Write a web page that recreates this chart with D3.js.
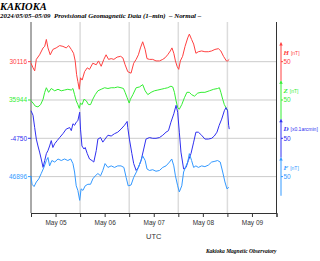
<!DOCTYPE html>
<html>
<head>
<meta charset="utf-8">
<script src="https://cdn.jsdelivr.net/npm/d3@7"></script>
<style>
  body { margin: 0; background: #fff; }
  svg { display: block; }
</style>
</head>
<body>
<div id="chart"></div>
<script>
// hours after 2024-05-05 00:00 UTC, values in nT (D in 0.1 arcmin)
const hHours = [0,1,1.8,2.6,4.2,5.9,6.7,7.5,8.3,9.4,10.7,12.3,14,15.6,17.2,18.4,19.7,20.8,21.6,22.3,22.9,23.6,24.2,25,26.2,27.5,28.6,30.2,31.9,33,34.3,35.6,36.7,37.9,39.2,40.5,42.1,43.8,44.9,46,47.3,48.9,50.2,51.4,52.5,53.5,54.6,55.8,56.7,57.9,59.5,61.1,62.8,64.4,65.5,66.8,68.1,68.9,69.8,70.6,71.4,72.2,73,74.1,75.3,76.6,77.4,78.5,79.5,80.6,81.8,83.4,85,86.7,88.3,89.9,91.6,92.8,94.1,95.5,96.1,96.9];
const hValues = [30114,30108,30104,30119,30125,30134,30136,30145,30134,30125,30132,30134,30137,30136,30134,30137,30132,30127,30117,30099,30090,30080,30095,30092,30103,30108,30106,30114,30112,30117,30110,30119,30125,30119,30120,30119,30122,30123,30121,30112,30103,30101,30114,30119,30125,30134,30142,30132,30120,30119,30119,30117,30117,30119,30121,30125,30130,30134,30127,30117,30110,30106,30117,30123,30136,30147,30152,30145,30139,30127,30129,30130,30129,30129,30130,30132,30133,30130,30123,30117,30117,30119];

const zHours = [0,1,2.1,3.4,4.7,5.9,6.7,7.5,8.6,9.9,11.6,13.2,14.8,16.4,18,19.7,20.5,21.3,22.1,22.9,23.6,24.2,25,25.9,27,28.1,29.1,30.2,31.4,32.7,34.3,36,37.6,39.2,40.8,42.4,44,45.2,46,47,48,48.6,49.8,51.4,53,54.6,55.8,57.1,58.7,60.3,62,63.6,65.2,66.8,68.4,69.3,70.1,70.9,71.7,72.5,73.7,75,76.2,77.4,78.5,79.9,81.5,83.1,85,87.2,89.3,91.2,92.1,92.8,93.7,94.5,95.5,96.1];
const zValues = [35943,35940,35936,35935,35938,35945,35954,35960,35954,35959,35956,35958,35956,35957,35958,35957,35959,35951,35943,35938,35933,35940,35938,35945,35943,35938,35938,35945,35951,35956,35958,35960,35959,35960,35960,35961,35960,35959,35954,35947,35940,35945,35951,35960,35961,35964,35956,35951,35954,35956,35957,35958,35959,35960,35962,35961,35954,35943,35934,35932,35938,35947,35954,35954,35951,35949,35953,35954,35954,35956,35958,35959,35960,35954,35945,35938,35933,35930];

const dHours = [0,1,1.8,2.6,3.4,4.2,5,5.9,6.7,7.5,8.3,9.1,9.9,10.7,11.6,12.8,14,15.6,17.2,18.9,19.7,20.5,21.3,22.1,22.9,23.8,24.2,24.9,25.9,26.5,27.5,28.6,29.8,30.7,31.9,32.7,34,35.1,36.2,37.6,39.2,40.8,42.4,44,45.7,47,47.3,48.1,49.3,50.2,51.4,52.5,53.8,55.1,56.2,57.9,59.5,61.1,62.8,64.4,66,67.2,68.4,69.8,70.9,71.7,72.5,73.3,74.6,75.8,76.9,78.2,79.5,80.6,81.8,83.4,85,86.7,88.3,89.6,90.9,92,93.2,94.5,95.3,96.1,96.6,96.9];
const dValues = [-4714,-4720,-4736,-4751,-4760,-4768,-4777,-4788,-4779,-4770,-4766,-4760,-4753,-4762,-4757,-4753,-4749,-4744,-4738,-4736,-4740,-4731,-4733,-4729,-4727,-4716,-4738,-4760,-4764,-4762,-4770,-4777,-4779,-4781,-4766,-4751,-4749,-4755,-4751,-4746,-4747,-4744,-4742,-4738,-4733,-4728,-4736,-4751,-4770,-4783,-4792,-4788,-4779,-4764,-4751,-4749,-4750,-4750,-4749,-4746,-4742,-4740,-4729,-4718,-4707,-4716,-4742,-4768,-4790,-4788,-4779,-4770,-4755,-4742,-4742,-4746,-4751,-4751,-4750,-4747,-4742,-4733,-4725,-4714,-4710,-4714,-4733,-4738];

const fHours = [0,0.5,1.5,2.6,3.8,5,6.3,7.5,8.3,9.1,10.2,11.6,13.2,14.8,16.4,18,19.4,20.5,21.3,22.1,22.9,23.8,24.5,25.4,26.5,27.8,29.1,30.2,31.4,32.7,34,35.1,36.2,37.6,39.2,40.8,42.4,44,45.4,46.5,47.5,48.9,50.2,51.9,53.5,54.6,55.8,56.7,57.9,59.5,61.1,62.8,64.4,66,67.7,68.8,69.8,70.6,71.7,72.5,73.7,74.6,75.5,76.6,77.4,78.5,79.5,80.6,81.8,83.4,85,86.7,88.3,89.9,91.2,92.5,93.7,94.8,95.8,96.7];
const fValues = [46897,46886,46883,46889,46893,46900,46908,46917,46921,46910,46917,46915,46919,46917,46919,46917,46919,46913,46902,46884,46878,46865,46880,46878,46884,46886,46886,46893,46897,46900,46897,46904,46913,46908,46910,46908,46910,46910,46908,46895,46884,46885,46895,46904,46915,46923,46917,46906,46904,46905,46903,46904,46908,46910,46915,46919,46910,46897,46884,46876,46884,46902,46908,46915,46926,46917,46908,46910,46908,46910,46909,46911,46915,46916,46917,46915,46902,46889,46880,46882];

const baseLabels = ["30116", "35944", "-4750", "46896"];
const compNames = ["H", "Z", "D", "F"];
const compUnits = ["[nT]", "[nT]", "[x0.1arcmin]", "[nT]"];
const scaleLabel = "50";
const dayStart = Date.UTC(2024, 4, 5);
const dayEnd = Date.UTC(2024, 4, 10);

const colors = ["#ff4040", "#33ee33", "#3030f0", "#3399ff"];

const width = 320, height = 261;
const margin = { top: 22, right: 43.5, bottom: 48, left: 31 };

const svg = d3.select("#chart").append("svg")
    .attr("width", width)
    .attr("height", height)
    .style("font-family", "'Liberation Sans', Arial, sans-serif");

const x = d3.scaleUtc()
    .domain([new Date(dayStart), new Date(dayEnd)])
    .range([margin.left, width - margin.right]);

// y is in nT offset from each series' base line; series are stacked 50 units apart
const y = d3.scaleLinear()
    .domain([-197.5, 51.8])
    .range([height - margin.bottom, margin.top]);

const series = [
    { hours: hHours, values: hValues },
    { hours: zHours, values: zValues },
    { hours: dHours, values: dValues },
    { hours: fHours, values: fValues }
];

// titles
svg.append("text")
    .attr("x", 0).attr("y", 10)
    .style("font-family", "'Liberation Serif', 'Times New Roman', serif")
    .style("font-weight", "bold").style("font-style", "italic")
    .style("font-size", "10.5px")
    .text("KAKIOKA");

svg.append("text")
    .attr("x", 0).attr("y", 18)
    .style("font-family", "'Liberation Serif', 'Times New Roman', serif")
    .style("font-weight", "bold").style("font-style", "italic")
    .style("font-size", "6.9px")
    .attr("xml:space", "preserve")
    .text("2024/05/05\u201305/09  Provisional Geomagnetic Data (1\u2013min)  \u2013 Normal \u2013");

// vertical day grid
const days = d3.utcDay.range(new Date(dayStart + 864e5), new Date(dayEnd));
svg.append("g").selectAll("line")
    .data(days)
    .join("line")
    .attr("x1", d => x(d)).attr("x2", d => x(d))
    .attr("y1", margin.top).attr("y2", height - margin.bottom)
    .attr("stroke", "#dcdcdc").attr("stroke-width", 1.5);

// horizontal base lines
svg.append("g").selectAll("line")
    .data(baseLabels)
    .join("line")
    .attr("x1", margin.left).attr("x2", width - margin.right)
    .attr("y1", (d, i) => y(-50 * i)).attr("y2", (d, i) => y(-50 * i))
    .attr("stroke", "#cccccc").attr("stroke-width", 1);

// frame
svg.append("line")
    .attr("x1", margin.left).attr("x2", margin.left)
    .attr("y1", margin.top).attr("y2", height - margin.bottom)
    .attr("stroke", "#555").attr("stroke-width", 1);
svg.append("line")
    .attr("x1", width - margin.right).attr("x2", width - margin.right)
    .attr("y1", margin.top).attr("y2", height - margin.bottom)
    .attr("stroke", "#333").attr("stroke-width", 1);

// bottom axis
const xAxis = d3.axisBottom(x)
    .ticks(d3.utcHour.every(12))
    .tickSize(4)
    .tickFormat(d => d.getUTCHours() === 12 ? d3.utcFormat("%b %d")(d) : "");

const gx = svg.append("g")
    .attr("transform", `translate(0,${height - margin.bottom})`)
    .call(xAxis);
gx.select(".domain").attr("stroke", "#333");
gx.selectAll(".tick line").attr("stroke", "#333");
gx.selectAll(".tick text")
    .attr("y", 7)
    .style("font-size", "6.5px")
    .attr("fill", "#333");

svg.append("text")
    .attr("x", x(new Date(dayStart + 2.5 * 864e5)))
    .attr("y", 239)
    .attr("text-anchor", "middle")
    .style("font-size", "7.5px")
    .attr("fill", "#333")
    .text("UTC");

svg.append("text")
    .attr("x", width - margin.right)
    .attr("y", 253)
    .attr("text-anchor", "end")
    .style("font-family", "'Liberation Serif', 'Times New Roman', serif")
    .style("font-weight", "bold").style("font-style", "italic")
    .style("font-size", "5.5px")
    .text("Kakioka Magnetic Observatory");

// left base labels
baseLabels.forEach((lab, i) => {
    svg.append("line")
        .attr("x1", margin.left - 3).attr("x2", margin.left)
        .attr("y1", y(-50 * i)).attr("y2", y(-50 * i))
        .attr("stroke", colors[i]);
    svg.append("text")
        .attr("x", margin.left - 4)
        .attr("y", y(-50 * i))
        .attr("dy", "0.35em")
        .attr("text-anchor", "end")
        .style("font-size", "6.5px")
        .attr("fill", colors[i])
        .text(lab);
});

// curves
const line = d3.line()
    .x(d => x(new Date(dayStart + d[0] * 36e5)))
    .y(d => y(d[1]));

series.forEach((s, i) => {
    const base = +baseLabels[i];
    const pts = s.hours.map((h, j) => [h, s.values[j] - base - 50 * i]);
    svg.append("path")
        .datum(pts)
        .attr("fill", "none")
        .attr("stroke", colors[i])
        .attr("stroke-width", 1)
        .attr("stroke-linejoin", "round")
        .attr("d", line);
});

// right scale bars
const sx = width - margin.right + 4.5;
series.forEach((s, i) => {
    const top = y(25 - 50 * i), bot = y(-25 - 50 * i), mid = y(-50 * i);
    const g = svg.append("g");
    g.append("line")
        .attr("x1", sx).attr("x2", sx)
        .attr("y1", top).attr("y2", bot)
        .attr("stroke", colors[i]).attr("stroke-width", 1);
    g.append("path")
        .attr("d", `M${sx - 1.8},${top + 3}L${sx},${top}L${sx + 1.8},${top + 3}Z`)
        .attr("fill", colors[i]);
    g.append("line")
        .attr("x1", sx).attr("x2", sx + 2)
        .attr("y1", mid).attr("y2", mid)
        .attr("stroke", colors[i]);
    g.append("text")
        .attr("x", sx + 2.5).attr("y", mid)
        .attr("dy", "0.35em")
        .style("font-size", "6.5px")
        .attr("fill", colors[i])
        .text(scaleLabel);
    const lab = g.append("text")
        .attr("x", sx + 2.5).attr("y", y(16.5 - 50 * i))
        .attr("dy", "0.35em")
        .attr("fill", colors[i]);
    lab.append("tspan")
        .style("font-family", "'Liberation Serif', 'Times New Roman', serif")
        .style("font-weight", "bold").style("font-style", "italic")
        .style("font-size", "7px")
        .text(compNames[i]);
    lab.append("tspan")
        .attr("dx", 2)
        .style("font-size", "5px")
        .text(compUnits[i]);
});
</script>
</body>
</html>
